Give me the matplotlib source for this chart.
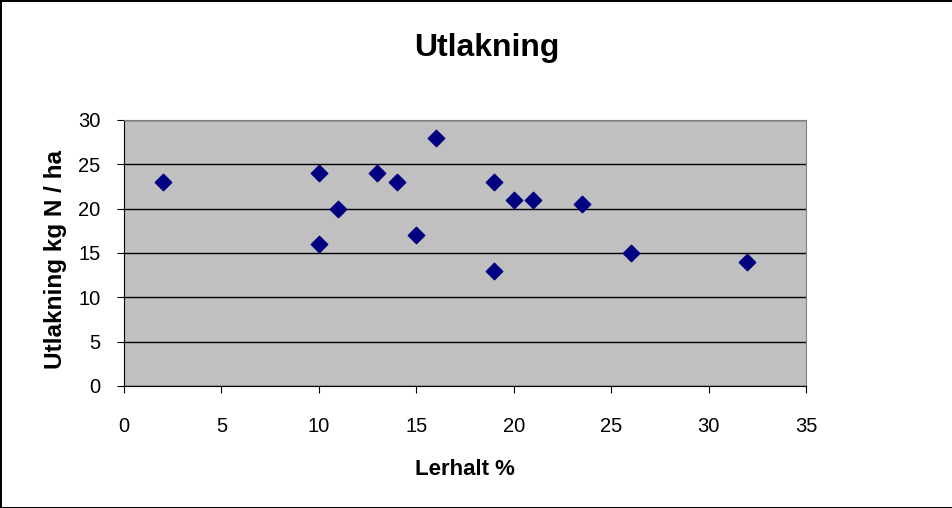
import matplotlib.pyplot as plt

plt.rcParams['font.family'] = ['Liberation Sans', 'DejaVu Sans']

lerhalt = [2, 10, 10, 11, 13, 14, 15, 16, 19, 19, 20, 21, 23.5, 26, 32]
utlakning = [23, 24, 16, 20, 24, 23, 17, 28, 23, 13, 21, 21, 20.5, 15, 14]

fig = plt.figure(figsize=(9.53, 5.08), dpi=100)
fig.patch.set_edgecolor('black')
fig.patch.set_linewidth(2)

ax = fig.add_axes([0.1301, 0.2402, 0.7156, 0.5236])
ax.set_facecolor('#C0C0C0')
ax.scatter(lerhalt, utlakning, marker='D', s=70, color='#000080', zorder=3)

ax.set_xlim(0, 35)
ax.set_ylim(0, 30)
ax.set_xticks(range(0, 36, 5))
ax.set_yticks(range(0, 31, 5))
ax.grid(axis='y', color='black', linewidth=1)
ax.set_axisbelow(True)

for s in ['top', 'right']:
    ax.spines[s].set_color('#808080')
for s in ['left', 'bottom']:
    ax.spines[s].set_color('black')
ax.tick_params(direction='out', length=5, labelsize=14.5, pad=17)
ax.tick_params(axis='y', pad=12)

fig.text(0.511, 0.906, 'Utlakning', fontsize=23, fontweight='bold',
         ha='center', va='center')
ax.set_xlabel('Lerhalt %', fontsize=16, fontweight='bold', labelpad=17)
ax.set_ylabel('Utlakning kg N / ha', fontsize=17.5, fontweight='bold')
ax.yaxis.set_label_coords(-0.084, 0.475)

fig.savefig('out.png', dpi=100, edgecolor=fig.get_edgecolor())
